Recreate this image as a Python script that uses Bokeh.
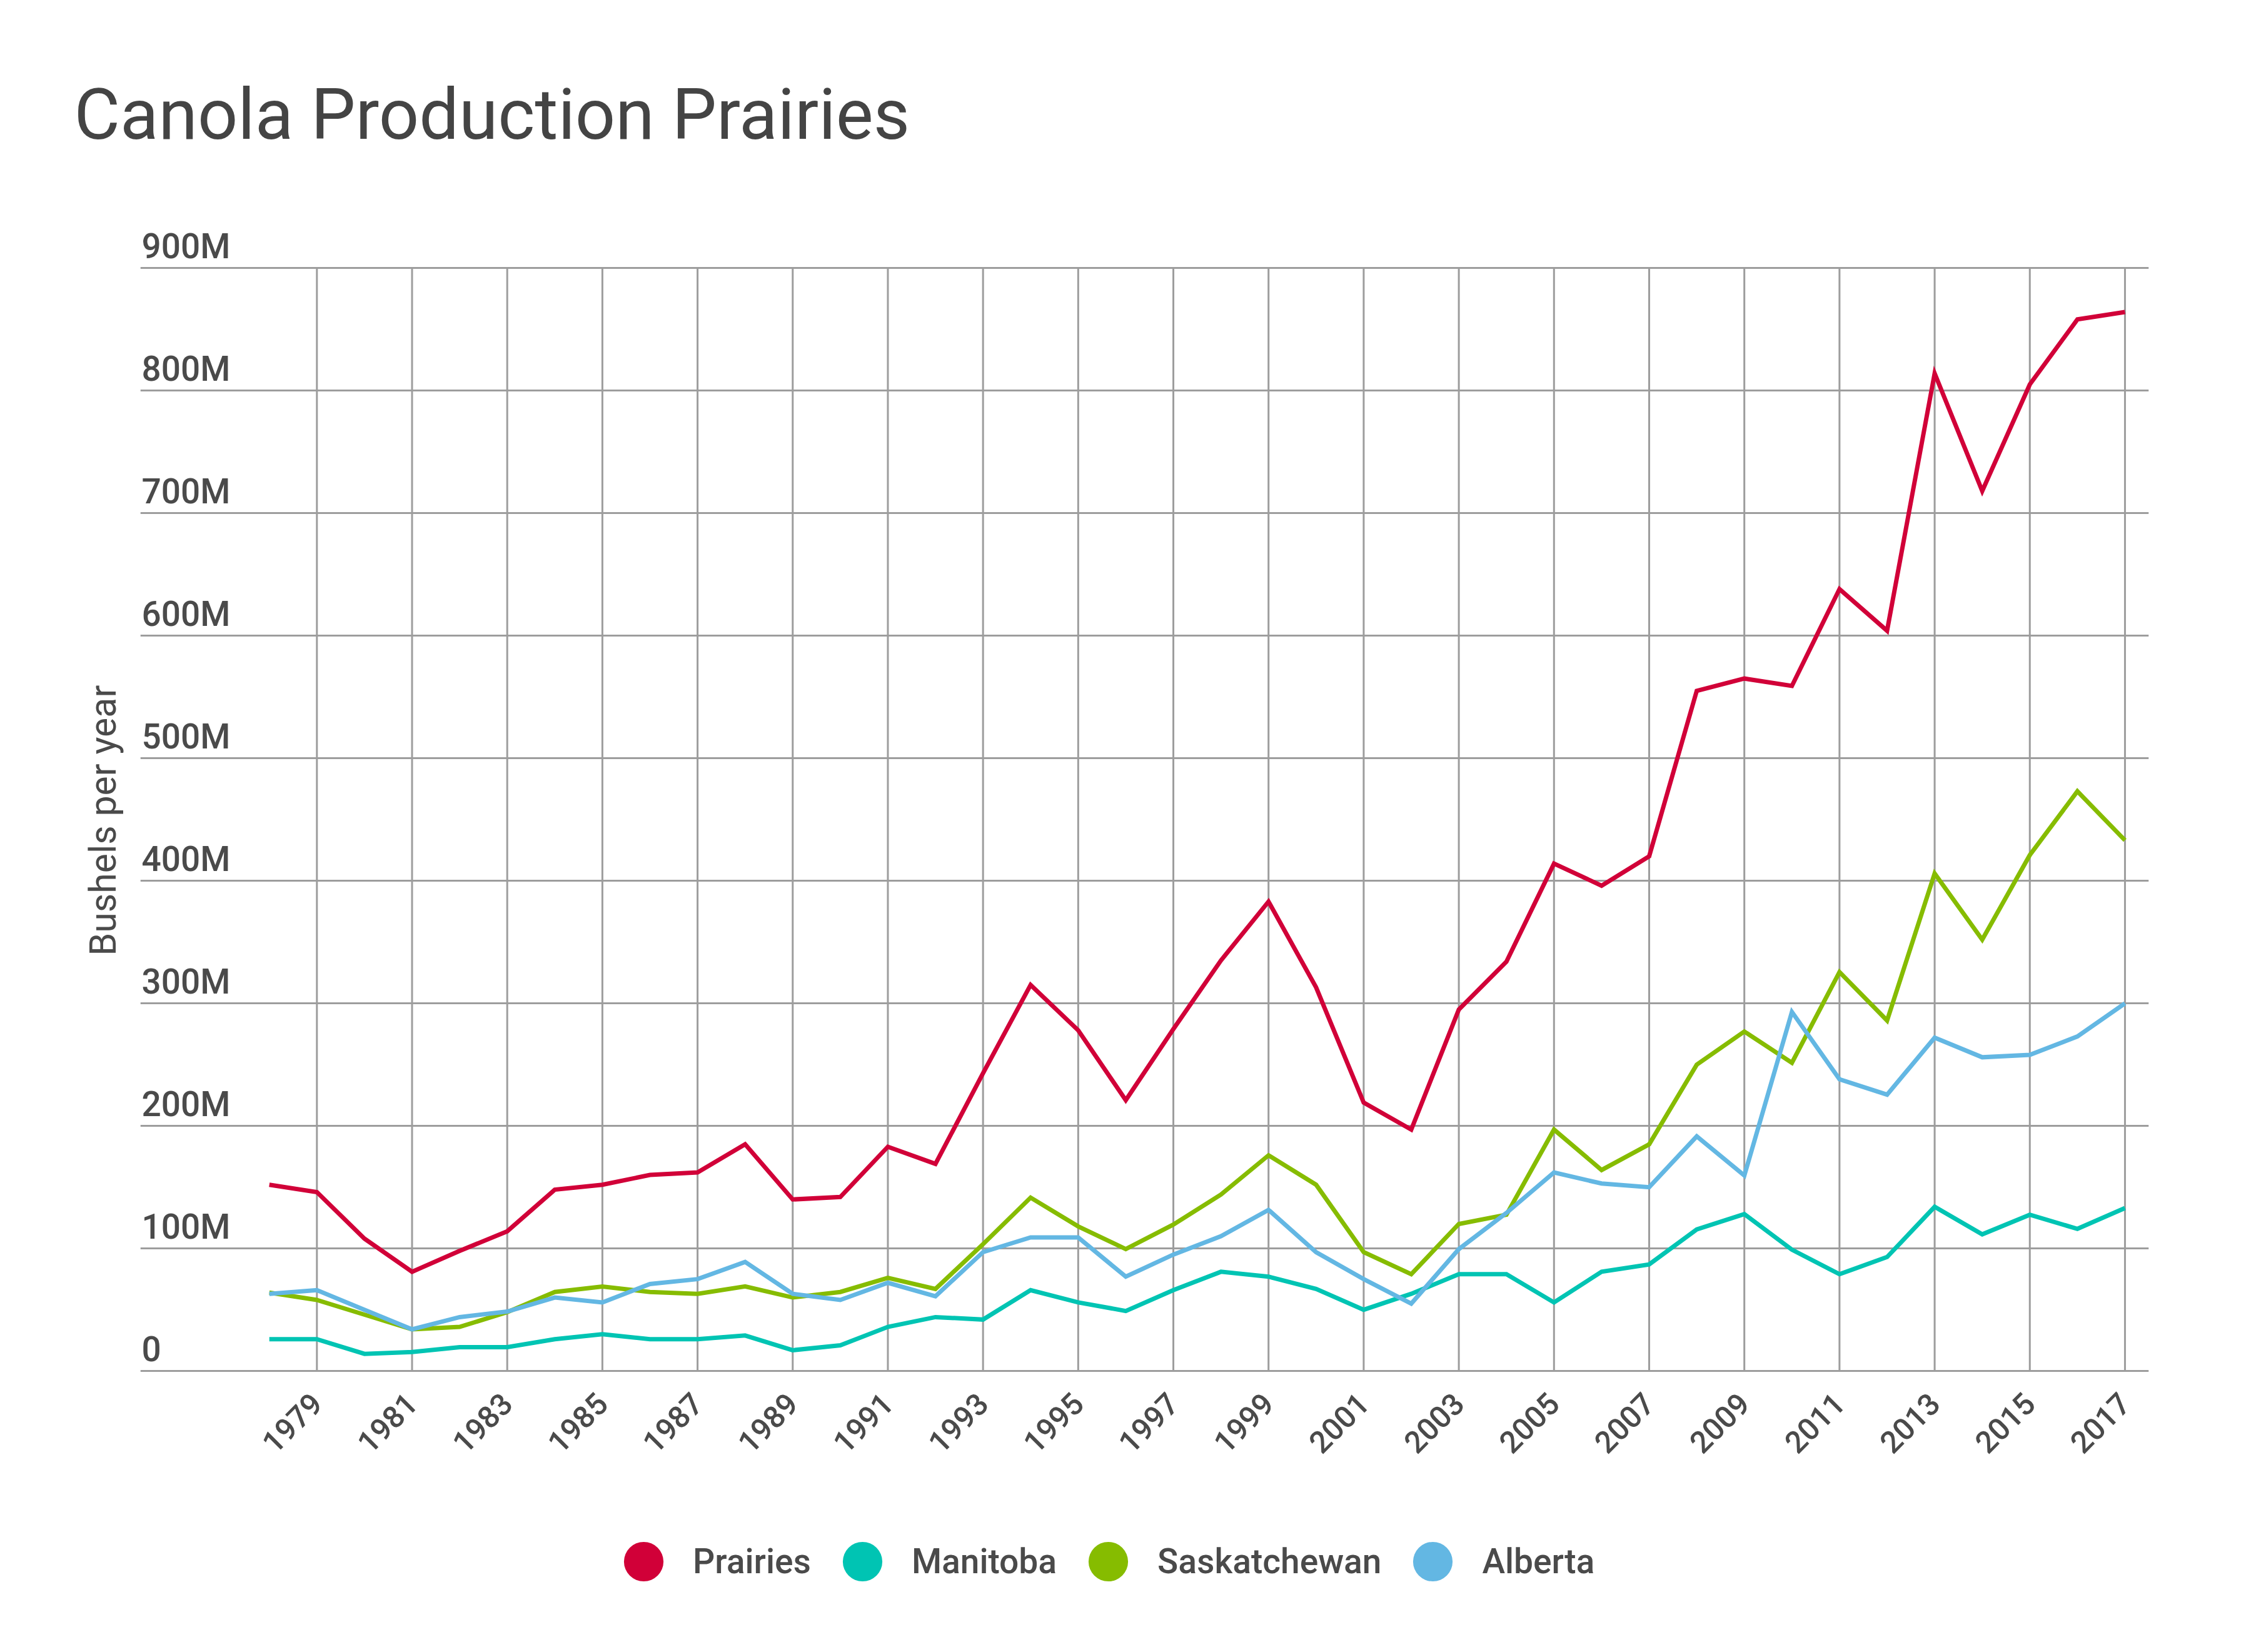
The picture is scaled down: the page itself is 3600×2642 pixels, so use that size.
import math
from bokeh.plotting import figure
from bokeh.layouts import column
from bokeh.models import (FixedTicker, Range1d, LabelSet, ColumnDataSource,
                          Legend, LegendItem, Title)
from bokeh.core.properties import value
from bokeh.embed import file_html
from bokeh.resources import INLINE

# ---------------- data (millions of bushels) ----------------
years = [1978, 1979, 1980, 1981, 1982, 1983, 1984, 1985, 1986, 1987,
         1988, 1989, 1990, 1991, 1992, 1993, 1994, 1995, 1996, 1997,
         1998, 1999, 2000, 2001, 2002, 2003, 2004, 2005, 2006, 2007,
         2008, 2009, 2010, 2011, 2012, 2013, 2014, 2015, 2016, 2017]

prairies = [152, 146, 108, 81, 98, 114, 148, 152, 160, 162,
            185, 140, 142, 183, 169, 243, 315, 278, 221, 279,
            335, 383, 313, 219, 197, 295, 334, 414, 396, 420,
            555, 565, 559, 638, 604, 814, 718, 805, 858, 864]

manitoba = [26, 26, 14, 15.5, 19.5, 19.5, 26, 30, 26, 26,
            29, 17, 21, 36, 44, 42, 66, 56, 49, 66,
            81, 77, 67, 50, 63, 79, 79, 56, 81, 87,
            115.5, 128, 99, 79, 93, 134, 111.5, 127.5, 116, 133]

saskatchewan = [64, 58, 46, 34, 36, 48, 64.5, 69, 64.5, 63,
                69, 60, 64.5, 76, 67, 103.5, 141.5, 118, 99.5, 119.5,
                144, 176, 152, 97, 79, 120, 127.5, 197, 164, 185,
                250, 277, 251.5, 325.5, 286, 406, 352, 421, 473, 433]

alberta = [63, 66, 50, 34, 44, 48.5, 60, 56, 71, 75,
           89, 63, 58, 72, 61, 97, 109, 109, 77, 95,
           110, 131.5, 97, 75, 55, 99.5, 129, 162, 153, 150,
           191.5, 159.5, 293, 238, 225.5, 272, 256, 258, 273, 300]

series_names = ["Prairies", "Manitoba", "Saskatchewan", "Alberta"]
series_colors = ["#d10038", "#00c4b3", "#86bc00", "#63b7e3"]

x_tick_years = [1979, 1981, 1983, 1985, 1987, 1989, 1991, 1993, 1995, 1997,
                1999, 2001, 2003, 2005, 2007, 2009, 2011, 2013, 2015, 2017]
y_tick_values = [0, 100, 200, 300, 400, 500, 600, 700, 800, 900]
y_tick_labels = ["0", "100M", "200M", "300M", "400M", "500M", "600M",
                 "700M", "800M", "900M"]
y_min, y_max = 0, 900

TITLE = "Canola Production Prairies"
Y_LABEL = "Bushels per year"

# ---------------- styling ----------------
TEXT = "#4a4a4a"
GRID = "#9d9d9d"
FONT = "Roboto"
FONT_MED = "Roboto Medium"
X_START, X_END = 1975.29, 2017.5
W = 3584
HA, HB = 2410, 216

p = figure(width=W, height=HA, output_backend="svg", toolbar_location=None,
           x_range=Range1d(X_START, X_END), y_range=Range1d(-4, 975),
           min_border_left=224, min_border_right=148,
           min_border_top=281, min_border_bottom=HA - 2200,
           title=TITLE)
p.background_fill_color = "white"
p.border_fill_color = "white"
p.outline_line_color = None

p.title.text_font = FONT
p.title.text_font_size = "113px"
p.title.text_font_style = "normal"
p.title.text_color = "#444444"
p.title.align = "left"
p.title.offset = -106
p.title.standoff = 64

# x axis
p.xaxis.ticker = FixedTicker(ticks=x_tick_years)
p.xaxis.major_label_orientation = math.pi / 4
p.xaxis.axis_line_color = None
p.xaxis.major_tick_line_color = None
p.xaxis.minor_tick_line_color = None
p.xaxis.major_label_text_font = FONT_MED
p.xaxis.major_label_text_font_size = "49px"
p.xaxis.major_label_text_color = TEXT
p.xaxis.major_label_standoff = 30

# y axis title (tick labels sit inside the plot above the gridlines)
p.yaxis.visible = False
p.add_layout(Title(text=Y_LABEL, align="left", offset=672, standoff=52,
                   vertical_align="bottom", text_font=FONT,
                   text_font_size="59px", text_font_style="normal",
                   text_color=TEXT), "left")

# grids: horizontal via the grid, vertical ones only between 0 and 900M
p.xgrid.visible = False
p.ygrid.ticker = FixedTicker(ticks=y_tick_values)
p.ygrid.grid_line_color = GRID
p.ygrid.grid_line_width = 3
p.segment(x0=x_tick_years, y0=[y_min] * len(x_tick_years),
          x1=x_tick_years, y1=[y_max] * len(x_tick_years),
          line_color=GRID, line_width=3, level="underlay")

# y tick labels above the gridlines
ysrc = ColumnDataSource(dict(x=[X_START] * len(y_tick_values),
                             y=y_tick_values, text=y_tick_labels))
p.add_layout(LabelSet(x="x", y="y", text="text", source=ysrc,
                      x_offset=2, y_offset=16,
                      text_align="left", text_baseline="alphabetic",
                      text_font=value(FONT_MED), text_font_size=value("55px"),
                      text_color=TEXT))

all_series = [prairies, manitoba, saskatchewan, alberta]
for vals, color in zip(all_series, series_colors):
    p.line(years, vals, line_color=color, line_width=7, line_join="miter")

# ---------------- legend strip ----------------
q = figure(width=W, height=HB, output_backend="svg", toolbar_location=None,
           x_range=Range1d(0, 1), y_range=Range1d(0, 1),
           min_border_left=0, min_border_right=0, min_border_top=0,
           min_border_bottom=0, x_axis_location=None, y_axis_location=None,
           title=None)
q.outline_line_color = None
q.grid.visible = False
q.background_fill_color = "white"
q.border_fill_color = "white"

items = []
for name, vals, color in zip(series_names, all_series, series_colors):
    s = q.scatter(years, vals, marker="circle", size=10,
                  fill_color=color, line_color=None)
    s.visible = False
    items.append(LegendItem(label=name, renderers=[s], index=0))

legend = Legend(items=items, location=(726, 50), orientation="horizontal",
                glyph_width=158, glyph_height=158, label_standoff=0,
                spacing=3, padding=0, margin=0,
                border_line_color=None, background_fill_alpha=0,
                label_text_font=FONT_MED, label_text_font_size="55px",
                label_text_color=TEXT)
q.add_layout(legend)

layout = column(p, q, spacing=0)
open("out.html", "w").write(file_html(layout, INLINE))
